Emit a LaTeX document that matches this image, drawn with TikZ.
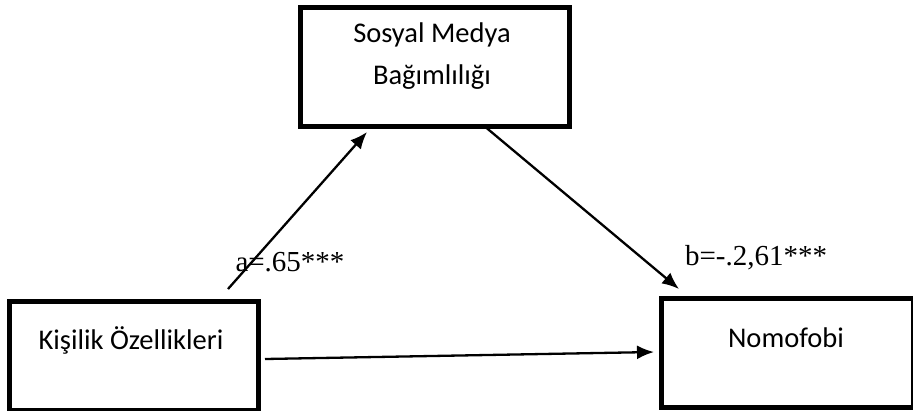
\documentclass[tikz,border=0pt]{standalone}
\usepackage{fontspec}
\setmainfont{Carlito}
\newfontfamily\timesfont{Liberation Serif}
\usetikzlibrary{arrows.meta}
\begin{document}
\begin{tikzpicture}[x=1pt,y=-1pt,
  varbox/.style={draw,line width=4.5pt,inner sep=0pt,anchor=north west},
  vartext/.style={font=\fontsize{28.5}{42}\selectfont,align=center,inner sep=0pt},
  coef/.style={font=\timesfont\fontsize{29}{32}\selectfont,inner sep=0pt},
  path/.style={line width=2.3pt,-{Latex[length=17pt,width=14pt]}}]
\useasboundingbox (0,0) rectangle (913,410);
\node[varbox,minimum width=249pt,minimum height=109pt] (kis) at (7,299) {};
\node[varbox,minimum width=269pt,minimum height=119pt] (smb) at (298,5) {};
\node[varbox,minimum width=252pt,minimum height=109pt] (nom) at (659,296) {};
\node[vartext] (kist) at (131,340) {Kişilik Özellikleri};
\node[vartext] (smbt) at (432,56) {Sosyal Medya\\Bağımlılığı};
\node[vartext] (nomt) at (786,338) {Nomofobi};
\coordinate (a1) at (228,289);
\coordinate (a2) at (367,132);
\coordinate (b1) at (483,125);
\coordinate (b2) at (679,289);
\coordinate (c1) at (265,359);
\coordinate (c2) at (654,352);
\draw[path] (a1) -- (a2);
\draw[path] (b1) -- (b2);
\draw[path] (c1) -- (c2);
\node[coef] (la) at (290,262) {a=.65***};
\node[coef] (lb) at (756,258) {b=-.2,61***};
\end{tikzpicture}
\end{document}
